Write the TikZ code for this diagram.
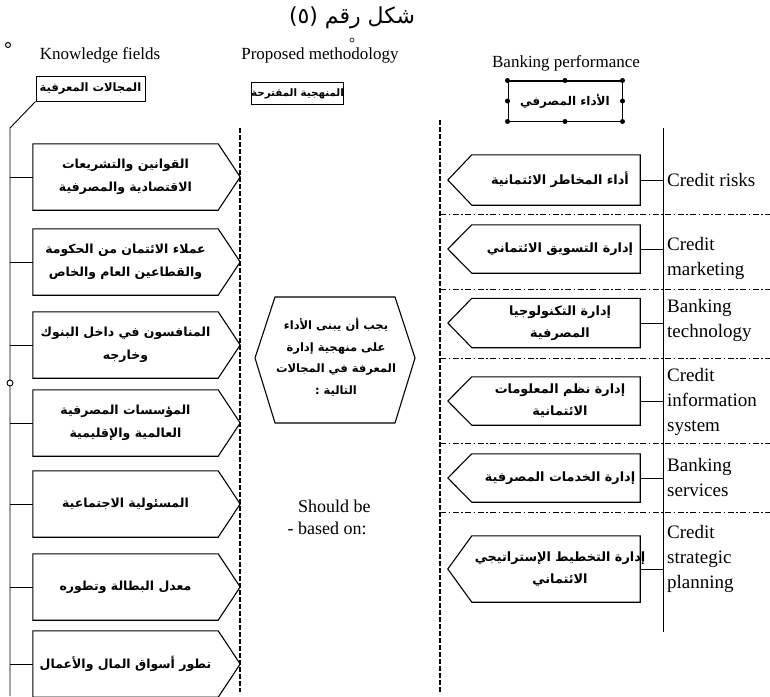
\documentclass[tikz,border=0pt]{standalone}
\usepackage{fontspec}
\setmainfont{Liberation Serif}
\newfontfamily\arabicfont[Script=Arabic]{DejaVu Sans}
\TeXXeTstate=1
\usetikzlibrary{calc}
\newcommand\AR[1]{{\arabicfont\bfseries\beginR #1\endR}}
\newcommand\LBox[3]{%
  \node[lbody] (#1) at (125.5,#2) {#3};
  \draw[boxline] (#1.north west) -- (#1.north east) -- ([xshift=22pt]#1.east) -- (#1.south east) -- (#1.south west) -- cycle;
  \coordinate (s#1) at (10,#2);
  \draw[conn] (s#1) -- (#1.west);
}
\newcommand\RBox[6]{%
  \node[rbody, minimum height=#3] (#1) at (556,#2) {};
  \node[artext] (#1t) at ([xshift=4pt]#1.center) {#4};
  \draw[boxline] (#1.north east) -- (#1.north west) -- ([xshift=-24pt]#1.west) -- (#1.south west) -- (#1.south east) -- cycle;
  \coordinate (q#1) at (663,#2);
  \draw[conn] (#1.east) -- (q#1);
  \node[eng] (#1e) at (667,#6) {#5};
}
\begin{document}
\begin{tikzpicture}[x=1pt,y=-1pt,
  boxline/.style={line width=1.1pt},
  conn/.style={line width=0.9pt},
  vdash/.style={line width=1.1pt, dash pattern=on 5pt off 2pt},
  sepline/.style={line width=0.7pt, dash pattern=on 6pt off 2.5pt on 1.5pt off 2.5pt},
  lbody/.style={minimum width=185pt, minimum height=66pt, inner sep=0pt, align=center, font=\fontsize{12.5}{23}\selectfont},
  rbody/.style={minimum width=168pt, inner sep=0pt},
  artext/.style={align=center, inner sep=0pt, font=\fontsize{12.8}{22}\selectfont},
  eng/.style={anchor=west, align=left, inner sep=0pt, font=\fontsize{19}{25}\selectfont},
  head/.style={inner sep=0pt, font=\fontsize{17}{20}\selectfont},
  handle/.style={circle, fill=black, inner sep=0pt, minimum size=5pt},
  topbox/.style={draw, line width=1pt, inner sep=0pt, font=\fontsize{11.5}{13}\selectfont}
]
\useasboundingbox (0,0) rectangle (770,696);

% title and headers
\node[inner sep=0pt, font=\fontsize{22}{26}\selectfont] (title) at (352,18) {{\arabicfont\beginR شكل رقم (٥)\endR}};
\node[head] (kf) at (100,55) {Knowledge fields};
\node[head] (pm) at (320,55) {Proposed methodology};
\node[head] (bp) at (566,63) {Banking performance};
\draw[line width=1pt] (8,45) circle (2.5);
\draw[line width=0.6pt] (352,40) circle (2);

% top boxes
\node[topbox, minimum width=109pt, minimum height=25pt] (KB) at (90.5,88.5) {\AR{المجالات المعرفية}};
\node[topbox, minimum width=90pt, minimum height=22pt, font=\fontsize{10.3}{12}\selectfont] (PB) at (297.5,93.5) {\AR{المنهجية المقترحة}};
\node[topbox, minimum width=114pt, minimum height=40pt, font=\fontsize{12}{14}\selectfont] (BB) at (565,101) {\AR{الأداء المصرفي}};
\draw[line width=2pt] (BB.north west) -- (BB.north east);
\foreach \a in {north west,north,north east,west,east,south west,south,south east}
  \node[handle] at (BB.\a) {};

% left spine
\coordinate (lsTop) at (10,128);
\coordinate (lsBot) at (10,696);
\draw[conn] (KB.south west) -- (lsTop) -- (lsBot);
\draw[line width=0.9pt, fill=white] (10,383) circle (3);

% dashed column separators
\coordinate (d1a) at (240,128); \coordinate (d1b) at (240,692);
\coordinate (d2a) at (440,120); \coordinate (d2b) at (440,692);
\draw[vdash] (d1a) -- (d1b);
\draw[vdash] (d2a) -- (d2b);

% left boxes
\LBox{L1}{177}{\AR{القوانين والتشريعات}\\\AR{الاقتصادية والمصرفية}}
\LBox{L2}{262}{\AR{عملاء الائتمان من الحكومة}\\\AR{والقطاعين العام والخاص}}
\LBox{L3}{345}{\AR{المنافسون في داخل البنوك}\\\AR{وخارجه}}
\LBox{L4}{423}{\AR{المؤسسات المصرفية}\\\AR{العالمية والإقليمية}}
\LBox{L5}{504}{\AR{المسئولية الاجتماعية}}
\LBox{L6}{587}{\AR{معدل البطالة وتطوره}}
\LBox{L7}{664}{\AR{تطور أسواق المال والأعمال}}

% hexagon
\draw[boxline] (255,358) -- (275,297) -- (395,297) -- (415,358) -- (395,423) -- (275,423) -- cycle;
\node[artext, font=\fontsize{11.5}{21.5}\selectfont] (hex) at (336,357) {\AR{يجب أن يبنى الأداء}\\\AR{على منهجية إدارة}\\\AR{المعرفة في المجالات}\\\AR{التالية :}};
\node[anchor=west, align=left, inner sep=0pt, font=\fontsize{18}{22}\selectfont] (sb) at (298,517) {Should be\\\llap{- }based on:};

% right spine and separators
\coordinate (rsTop) at (663,128);
\coordinate (rsBot) at (663,632);
\draw[conn] (rsTop) -- (rsBot);
\foreach \yy in {214,289,358,443,512}
  \draw[sepline] (440,\yy) -- (770,\yy);

% right boxes
\RBox{R1}{180}{50pt}{\AR{أداء المخاطر الائتمانية}}{Credit risks}{180}
\RBox{R2}{249}{48pt}{\AR{إدارة التسويق الائتماني}}{Credit\\marketing}{258}
\RBox{R3}{323}{49pt}{\AR{إدارة التكنولوجيا}\\\AR{المصرفية}}{Banking\\technology}{320}
\RBox{R4}{401}{48pt}{\AR{إدارة نظم المعلومات}\\\AR{الائتمانية}}{Credit\\information\\system}{402}
\RBox{R5}{478}{48pt}{\AR{إدارة الخدمات المصرفية}}{Banking\\services}{477}
\RBox{R6}{569}{66pt}{\AR{إدارة التخطيط الإستراتيجي}\\\AR{الائتماني}}{Credit\\strategic\\planning}{559}
\end{tikzpicture}
\end{document}
